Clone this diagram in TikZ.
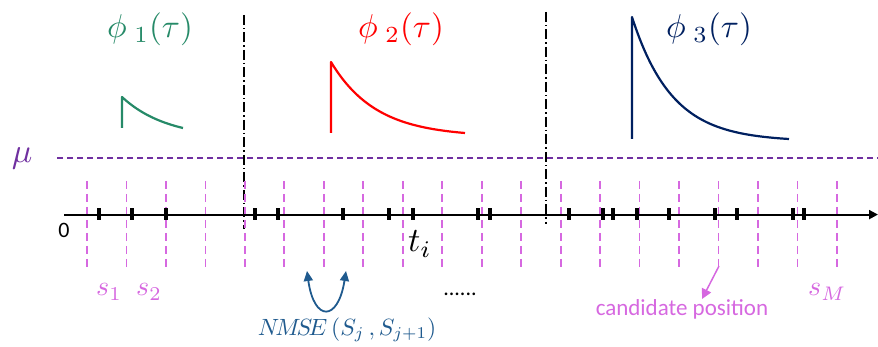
\documentclass[tikz,border=0pt]{standalone}
\usepackage{graphicx}
\usepackage{fontspec}
\newfontfamily\calib{Carlito}
\usetikzlibrary{arrows.meta}
\definecolor{mag}{RGB}{214,104,224}
\definecolor{purp}{RGB}{112,48,160}
\definecolor{grn}{RGB}{38,138,104}
\definecolor{navy}{RGB}{0,32,96}
\definecolor{nblue}{RGB}{31,90,142}
\newcommand{\sclm}[2]{\scalebox{#1}{$#2$}}
\tikzset{
  slotline/.style={mag, line width=1.8pt, dash pattern=on 8pt off 5pt},
  muline/.style={purp, line width=1.5pt, dash pattern=on 6pt off 4pt},
  divline/.style={black, line width=1.4pt, dash pattern=on 10pt off 3pt on 1.5pt off 3pt},
  evtick/.style={black, line width=4.5pt},
  decay/.style={line width=2.2pt, line join=round},
  txt/.style={inner sep=0pt, anchor=base},
}
\begin{document}
\begin{tikzpicture}[x=1pt,y=-1pt]
\useasboundingbox (0,0) rectangle (878,347);
% mu line
\coordinate (muL) at (57,158);
\coordinate (muR) at (878,158);
\draw[muline] (muL) -- (muR);
\node[txt, purp] (mu) at (22,163) {\sclm{3.4}{\mu}};
% division lines
\coordinate (d1t) at (244,15); \coordinate (d1b) at (244,229);
\coordinate (d2t) at (546,12); \coordinate (d2b) at (546,224);
\draw[divline] (d1t) -- (d1b);
\draw[divline] (d2t) -- (d2b);
% slot lines
\foreach \k in {0,...,19}{
  \coordinate (sl\k t) at ({87+\k*39.47},181);
  \coordinate (sl\k b) at ({87+\k*39.47},267);
  \draw[slotline] (sl\k t) -- (sl\k b);
}
% axis
\coordinate (ax0) at (64,214.6);
\coordinate (ax1) at (878,214.6);
\draw[line width=2pt, -{Triangle[length=9pt,width=9pt]}] (ax0) -- (ax1);
\node[font=\calib\fontsize{22}{26}\selectfont, inner sep=0pt] (zero) at (64,230) {0};
% event ticks
\foreach \t in {99,132,166,255,278,343,389,413,478,490,569,603,613,637,669,715,737,793,804}{
  \draw[evtick] (\t,208.5) -- (\t,220.5);
}
% decays
\draw[decay, grn] (122,128) -- plot[domain=0:61, samples=50] ({122+\x},{128-31*(exp(-\x/45)-exp(-61/45))/(1-exp(-61/45))});
\draw[decay, red] (331,133) -- plot[domain=0:134, samples=70] ({331+\x},{133-71*(exp(-\x/45)-exp(-134/45))/(1-exp(-134/45))});
\draw[decay, navy] (632,139) -- plot[domain=0:157, samples=80] ({632+\x},{139-122*(exp(-\x/40)-exp(-157/40))/(1-exp(-157/40))});
% titles
\node[txt, grn] (phi1) at (150,38) {\sclm{3.3}{\phi_{\;1}(\tau)}};
\node[txt, red] (phi2) at (401,38) {\sclm{3.3}{\phi_{\;2}(\tau)}};
\node[txt, navy] (phi3) at (709,38) {\sclm{3.3}{\phi_{\;3}(\tau)}};
% labels
\node[txt, black] (ti) at (420,252) {\sclm{3.4}{t_i}};
\node[txt, anchor=base west, mag] (s1) at (96,296) {\sclm{2.8}{s_1}};
\node[txt, anchor=base west, mag] (s2) at (136,296) {\sclm{2.8}{s_2}};
\node[txt, anchor=base west, mag] (sM) at (808,296) {\sclm{2.8}{s_M}};
\node[txt, font=\calib\fontsize{22}{26}\selectfont] (dots) at (460,295) {......};
\node[txt, nblue] (nmse) at (347,335) {\sclm{2.35}{N\!M\!S\!E\,(S_j\,,S_{j+1})}};
\node[txt, mag, font=\calib\fontsize{23}{27}\selectfont] (cand) at (682,316) {candidate position};
% NMSE double arrow
\coordinate (nl) at (307,271);
\coordinate (nr) at (346,271);
\draw[nblue, line width=1.8pt, {Triangle[length=10pt,width=9pt]}-{Triangle[length=10pt,width=9pt]}] (nl) .. controls (314,322) and (338,322) .. (nr);
% candidate arrow
\coordinate (ca) at (719,266);
\coordinate (cb) at (702,299);
\draw[mag, line width=1.5pt, -{Triangle[length=10pt,width=10pt]}] (ca) -- (cb);
\end{tikzpicture}
\end{document}
